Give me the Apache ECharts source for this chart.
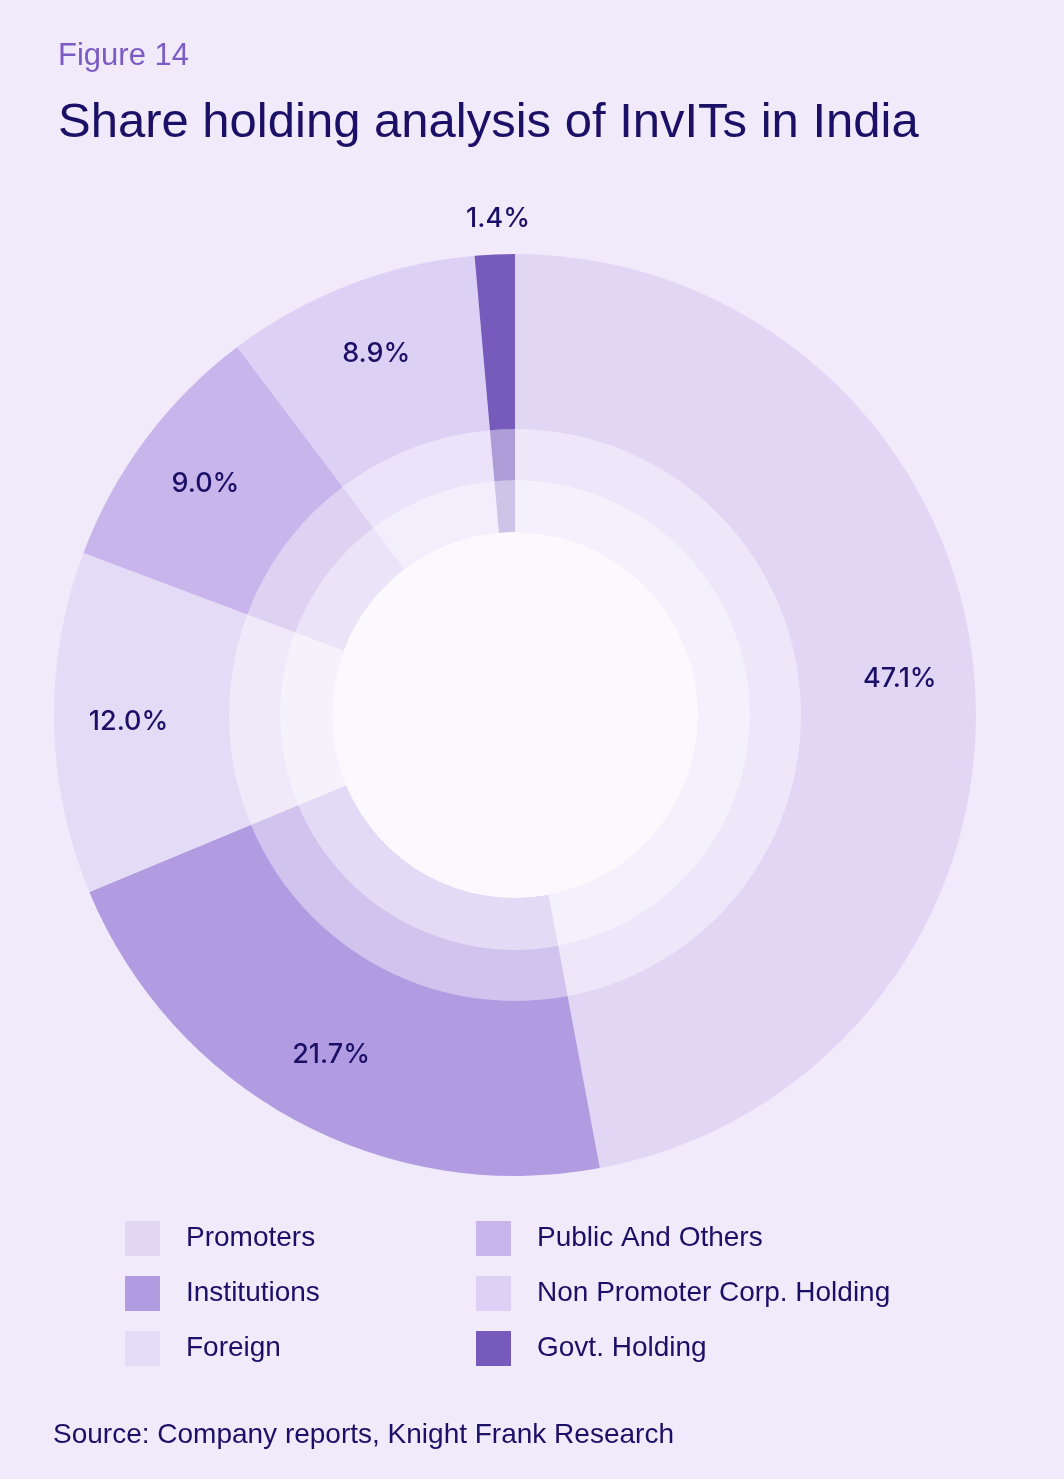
<!DOCTYPE html>
<html>
<head>
<meta charset="utf-8">
<script src="https://cdn.jsdelivr.net/npm/echarts@6/dist/echarts.min.js"></script>
<style>
html,body{margin:0;padding:0;background:#f1eafb;}
#chart{width:1064px;height:1479px;}
</style>
</head>
<body>
<div id="chart"></div>
<script>
// Data
const categories = ['Promoters', 'Institutions', 'Foreign', 'Public And Others', 'Non Promoter Corp. Holding', 'Govt. Holding'];
const shares = [47.1, 21.7, 12.0, 9.0, 8.9, 1.4];
const sliceColors = ['#e1d7f5', '#b19ce2', '#e4dbf6', '#c8b5ec', '#ddd0f5', '#765bbc'];
const legendLeftColumn = ['Promoters', 'Institutions', 'Foreign'];
const legendRightColumn = ['Public And Others', 'Non Promoter Corp. Holding', 'Govt. Holding'];
const figureLabel = 'Figure 14';
const chartTitle = 'Share holding analysis of InvITs in India';
const sourceText = 'Source: Company reports, Knight Frank Research';

const navy = '#1b0f66';
const font = '"Liberation Sans", Arial, sans-serif';
const center = [515, 715];

const pieData = categories.map((c, i) => ({
  name: c,
  value: shares[i],
  itemStyle: { color: sliceColors[i] }
}));

const labelData = categories.map((c, i) => {
  const item = { name: c, value: shares[i] };
  if (c === 'Govt. Holding') {
    item.label = { offset: [0, -110] };
  }
  return item;
});

const chart = echarts.init(document.getElementById('chart'), null, { renderer: 'canvas' });

const legendCommon = {
  orient: 'vertical',
  top: 1221,
  padding: 0,
  itemWidth: 35,
  itemHeight: 35,
  itemGap: 20,
  icon: 'rect',
  selectedMode: false,
  textStyle: { color: navy, fontSize: 28, fontFamily: font, padding: [0, 0, 0, 21] }
};

chart.setOption({
  backgroundColor: '#f1eafb',
  animation: false,
  graphic: [
    { type: 'text', x: 58, y: 56, style: { text: figureLabel, fill: '#7b5cc4', font: '31px ' + font, align: 'left', verticalAlign: 'middle' } },
    { type: 'text', x: 58, y: 123, style: { text: chartTitle, fill: navy, font: '49px ' + font, align: 'left', verticalAlign: 'middle' } },
    { type: 'text', x: 53, y: 1435, style: { text: sourceText, fill: navy, font: '28px ' + font, align: 'left', verticalAlign: 'middle' } }
  ],
  legend: [
    Object.assign({}, legendCommon, { left: 125, data: legendLeftColumn }),
    Object.assign({}, legendCommon, { left: 476, data: legendRightColumn })
  ],
  series: [
    {
      type: 'pie',
      name: 'share',
      center: center,
      radius: [183, 461],
      startAngle: 90,
      clockwise: true,
      silent: true,
      label: { show: false },
      labelLine: { show: false },
      itemStyle: { borderWidth: 0 },
      data: pieData
    },
    {
      type: 'pie',
      name: 'ringMid',
      center: center,
      radius: [235, 286],
      silent: true,
      label: { show: false },
      labelLine: { show: false },
      itemStyle: { color: 'rgba(255,255,255,0.4)', borderWidth: 0 },
      data: [{ name: '_mid', value: 1 }]
    },
    {
      type: 'pie',
      name: 'ringInner',
      center: center,
      radius: [183, 235],
      silent: true,
      label: { show: false },
      labelLine: { show: false },
      itemStyle: { color: 'rgba(255,255,255,0.64)', borderWidth: 0 },
      data: [{ name: '_inner', value: 1 }]
    },
    {
      type: 'pie',
      name: 'hole',
      center: center,
      radius: [0, 183],
      silent: true,
      label: { show: false },
      labelLine: { show: false },
      itemStyle: { color: '#fbf9fe', borderWidth: 0 },
      data: [{ name: '_hole', value: 1 }]
    },
    {
      type: 'pie',
      name: 'labels',
      center: center,
      radius: [306, 461],
      startAngle: 90,
      clockwise: true,
      silent: true,
      avoidLabelOverlap: false,
      itemStyle: { color: 'rgba(0,0,0,0)', borderWidth: 0 },
      label: {
        show: true,
        position: 'inside',
        color: navy,
        fontSize: 27,
        fontWeight: 500,
        fontFamily: 'Inter, "Liberation Sans", sans-serif',
        formatter: p => p.value.toFixed(1) + '%'
      },
      labelLine: { show: false },
      data: labelData
    }
  ]
});
</script>
</body>
</html>
